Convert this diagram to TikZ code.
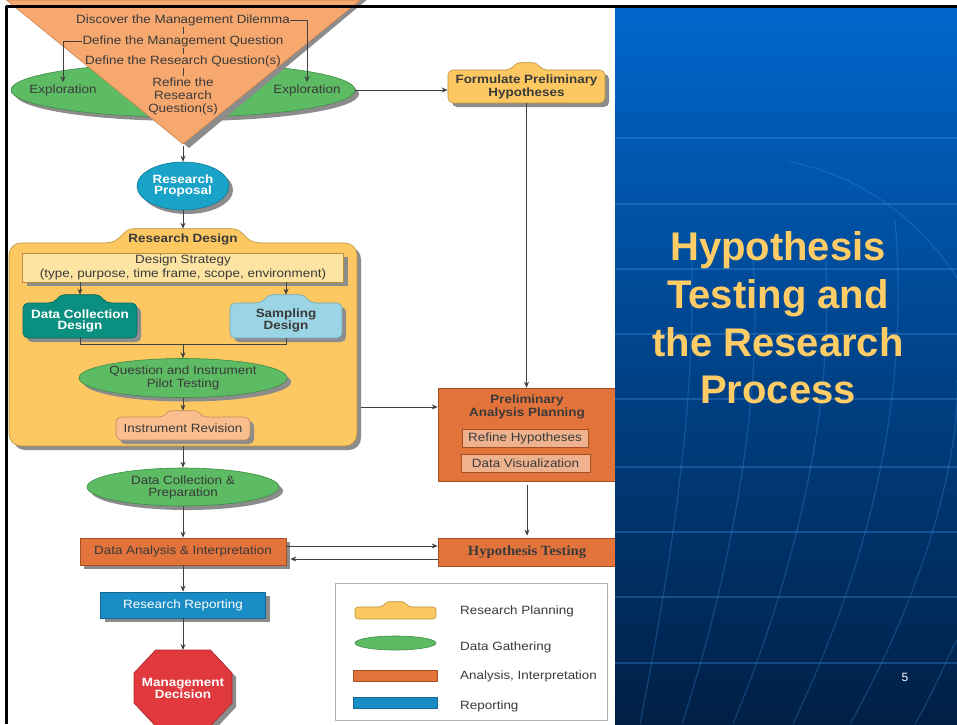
\documentclass[tikz,border=0pt]{standalone}
\usepackage{fontspec}
\setmainfont{Liberation Sans}[FakeStretch=1.12]
\newfontfamily\titlefont{Liberation Sans}
\newfontfamily\tnrfont{Liberation Serif}[FakeStretch=1.05]
\usetikzlibrary{shapes.geometric,arrows.meta,calc,shadows}

\definecolor{tri}{HTML}{F6A86E}
\definecolor{trid}{HTML}{C9834E}
\definecolor{grn}{HTML}{5DBB63}
\definecolor{grnd}{HTML}{3E8E45}
\definecolor{cyn}{HTML}{1AA3C8}
\definecolor{cynd}{HTML}{137A96}
\definecolor{yel}{HTML}{FDC862}
\definecolor{yeld}{HTML}{B8913A}
\definecolor{ltyel}{HTML}{FDE4A2}
\definecolor{tealc}{HTML}{0B8F80}
\definecolor{teald}{HTML}{06695E}
\definecolor{ltblu}{HTML}{9BD4E4}
\definecolor{ltblud}{HTML}{6FA9BA}
\definecolor{ltor}{HTML}{F9BE8E}
\definecolor{ltord}{HTML}{C48A5E}
\definecolor{org}{HTML}{E2733A}
\definecolor{orgd}{HTML}{A64F22}
\definecolor{ltorg}{HTML}{EFB28E}
\definecolor{blu}{HTML}{1A8CC5}
\definecolor{blud}{HTML}{136894}
\definecolor{redc}{HTML}{E03A3E}
\definecolor{redd}{HTML}{A82629}
\definecolor{txtc}{HTML}{3A3A3A}
\definecolor{linc}{HTML}{404040}
\definecolor{shadowc}{HTML}{8C8C8C}
\definecolor{bltop}{HTML}{0066CC}
\definecolor{blmid}{HTML}{0052A8}
\definecolor{blbot}{HTML}{001F45}
\definecolor{gridc}{HTML}{3F8FE0}
\definecolor{titlec}{HTML}{FFCC66}

\newcommand{\dfont}[1]{\fontsize{12}{#1}\selectfont}
% bump on top of a planning box: #1 node, #2 half width, #3 height, #4 fill, #5 draw
\newcommand{\bump}[5]{%
  \path[fill=#4] ($(#1.north)+(-#2,1.2)$) -- ($(#1.north)+(-#2,0)$)
     .. controls +(1.0*#3,0) and +(-0.8*#3,0) .. ($(#1.north)+(-#2+1.9*#3,-#3)$)
     -- ($(#1.north)+(#2-1.9*#3,-#3)$)
     .. controls +(0.8*#3,0) and +(-1.0*#3,0) .. ($(#1.north)+(#2,0)$)
     -- ($(#1.north)+(#2,1.2)$) -- cycle;
  \draw[draw=#5, line width=0.6pt] ($(#1.north)+(-#2,0)$)
     .. controls +(1.0*#3,0) and +(-0.8*#3,0) .. ($(#1.north)+(-#2+1.9*#3,-#3)$)
     -- ($(#1.north)+(#2-1.9*#3,-#3)$)
     .. controls +(0.8*#3,0) and +(-1.0*#3,0) .. ($(#1.north)+(#2,0)$);
  \coordinate (#1-top) at ($(#1.north)+(0,-#3)$);
}

\tikzset{
  txt/.style={font=\dfont{13}, align=center, text=txtc, inner sep=0pt},
  txtb/.style={txt, font=\dfont{13}\bfseries},
  arr/.style={draw=linc, line width=1pt, -{Stealth[length=6pt,width=5pt]}},
  ln/.style={draw=linc, line width=1pt},
  shd/.style={drop shadow={shadow xshift=4pt, shadow yshift=-4pt, fill=shadowc, opacity=1}},
  oval/.style={ellipse, fill=grn, draw=grnd, line width=0.6pt, inner sep=0pt},
  box/.style={rectangle, line width=0.6pt, inner sep=0pt},
}

\begin{document}
\begin{tikzpicture}[x=1pt,y=-1pt,line join=round]
\useasboundingbox (0,0) rectangle (957,724);
\clip (0,0) rectangle (957,724);
\fill[white] (0,0) rectangle (957,724);

% ---------- top: exploration ellipse and triangle ----------
\node[oval, minimum width=344pt, minimum height=54pt, shd] (expl) at (183,90) {};
\fill[shadowc] (12.4,0) -- (366.6,0) -- (189,148) -- cycle;
\filldraw[fill=tri, draw=trid, line width=0.6pt] (6.4,0) -- (360.6,0) -- (183,144) -- cycle;
\coordinate (apex) at (183,146);

\node[txt] (t1) at (183,20) {Discover the Management Dilemma};
\node[txt] (t2) at (183,41) {Define the Management Question};
\node[txt] (t3) at (183,61) {Define the Research Question(s)};
\node[txt] (t4) at (183,96) {Refine the\\Research\\Question(s)};
\node[txt] (exL) at (63,90) {Exploration};
\node[txt] (exR) at (307,90) {Exploration};

\draw[ln, shorten <=1.5pt, shorten >=1.5pt] (t1.south) -- (t2.north);
\draw[ln, shorten <=1.5pt, shorten >=1.5pt] (t2.south) -- (t3.north);
\draw[ln, shorten <=1.5pt, shorten >=1.5pt] (t3.south) -- (t4.north);
\draw[arr, shorten >=2pt] (t1.east) -| (exR.north);
\draw[arr, shorten >=2pt] (t2.west) -| (exL.north);

% ---------- formulate preliminary hypotheses ----------
\node[box, rounded corners=5pt, fill=yel, draw=yeld, minimum width=157pt, minimum height=33pt, shd, txtb] (fph) at (526.5,86.5) {Formulate Preliminary\\Hypotheses};
\bump{fph}{20}{7}{yel}{yeld}

% ---------- research proposal ----------
\node[ellipse, fill=cyn, draw=cynd, line width=0.6pt, inner sep=0pt, minimum width=92pt, minimum height=48pt, shd, txtb, text=white, font=\dfont{11.5}\bfseries] (rp) at (183,186) {Research\\Proposal};

% ---------- research design ----------
\node[box, rounded corners=12pt, fill=yel, draw=yeld, minimum width=348pt, minimum height=203pt, shd] (rd) at (183,344.5) {};
\bump{rd}{76}{14}{yel}{yeld}
\node[txtb] (rdt) at (183,239) {Research Design};

\node[box, fill=ltyel, draw=yeld, minimum width=321pt, minimum height=29pt, shd, txt, font=\dfont{14}] (ds) at (183,267.5) {Design Strategy\\(type, purpose, time frame, scope, environment)};

\node[box, rounded corners=5pt, fill=tealc, draw=teald, minimum width=114pt, minimum height=35pt, shd, txtb, text=white, font=\dfont{11}\bfseries] (dcd) at (80,320.5) {Data Collection\\Design};
\bump{dcd}{31}{8}{tealc}{teald}
\node[box, rounded corners=5pt, fill=ltblu, draw=ltblud, minimum width=112pt, minimum height=35pt, shd, txtb, font=\dfont{11}\bfseries] (sd) at (286,320.5) {Sampling\\Design};
\bump{sd}{29}{8}{ltblu}{ltblud}

\node[oval, minimum width=191pt, minimum height=39pt, shd, txt] (pil) at (183,378) {Question and Instrument\\Pilot Testing};

\node[box, rounded corners=5pt, fill=ltor, draw=ltord, minimum width=134pt, minimum height=23pt, shd, txt] (ir) at (183,428.5) {Instrument Revision};
\bump{ir}{23}{6}{ltor}{ltord}

% ---------- lower chain ----------
\node[oval, minimum width=192pt, minimum height=38pt, shd, txt, font=\dfont{12}] (dcp) at (183,487) {Data Collection \&\\Preparation};
\node[box, fill=org, draw=orgd, minimum width=206pt, minimum height=27pt, shd, txt] (dai) at (183,551.5) {Data Analysis \& Interpretation};
\node[box, fill=blu, draw=blud, minimum width=165pt, minimum height=26pt, shd, txt, text=white] (rr) at (183,605) {Research Reporting};

\coordinate (mdc) at (183,688);
\filldraw[fill=redc, draw=redd, line width=0.6pt, shd]
  ($(mdc)+(-27.5,-38)$) -- ($(mdc)+(27.5,-38)$) -- ($(mdc)+(49,-15)$) -- ($(mdc)+(49,15)$)
  -- ($(mdc)+(27.5,38)$) -- ($(mdc)+(-27.5,38)$) -- ($(mdc)+(-49,15)$) -- ($(mdc)+(-49,-15)$) -- cycle;
\coordinate (mdtop) at ($(mdc)+(0,-38)$);
\node[txtb, text=white, font=\dfont{12}\bfseries] (md) at (mdc) {Management\\Decision};

% ---------- right column ----------
\node[box, fill=org, draw=orgd, minimum width=178pt, minimum height=93pt] (pap) at (527,434.5) {};
\node[txtb] (papt) at (527,406.5) {Preliminary\\Analysis Planning};
\node[box, fill=ltorg, draw=orgd, minimum width=126pt, minimum height=18pt, txt] (rh) at (525,438) {Refine Hypotheses};
\node[box, fill=ltorg, draw=orgd, minimum width=129pt, minimum height=18pt, txt] (dv) at (525.5,463.5) {Data Visualization};
\node[box, fill=org, draw=orgd, minimum width=178pt, minimum height=28pt, txt, font=\tnrfont\fontsize{14}{14}\selectfont\bfseries] (ht) at (527,552) {Hypothesis Testing};

% ---------- connectors ----------
\draw[arr] (expl.east) -- (expl.east -| fph.west);
\draw[arr] (fph.south) -- (fph.south |- pap.north);
\draw[arr] (apex) -- (rp.north);
\draw[arr] (rp.south) -- (rd-top);
\draw[arr] (ds.south -| dcd.north) -- (dcd-top);
\draw[arr] (ds.south -| sd.north) -- (sd-top);
\coordinate (jn) at ($(dcd.south)+(0,6)$);
\draw[ln] (dcd.south) -- (jn) -| (sd.south);
\draw[arr] (jn -| pil.north) -- (pil.north);
\draw[arr] (pil.south) -- (ir-top);
\draw[arr] (rd.south) -- (dcp.north);
\coordinate (rdo) at ($(rd.east)+(4,62.5)$);
\draw[arr] (rdo) -- (rdo -| pap.west);
\draw[arr] (dcp.south) -- (dai.north);
\draw[arr] (dai.south) -- (rr.north);
\draw[arr] (rr.south) -- (mdtop);
\draw[arr, shorten <=4pt, shorten >=2pt] (pap.south) -- (ht.north);
\coordinate (da1) at ($(dai.east)+(0,-5.5)$);
\draw[arr] (da1) -- (da1 -| ht.west);
\coordinate (ht1) at ($(ht.west)+(0,7)$);
\draw[arr, shorten >=4pt] (ht1) -- (ht1 -| dai.east);

% ---------- legend ----------
\node[box, draw=gray!60, line width=0.8pt, fill=white, minimum width=272pt, minimum height=137pt] (leg) at (471,651.5) {};
\node[box, rounded corners=3pt, fill=yel, draw=yeld, minimum width=81pt, minimum height=12pt] (lg1) at (395.5,613) {};
\bump{lg1}{16}{5}{yel}{yeld}
\node[oval, minimum width=81pt, minimum height=14pt] (lg2) at (395.5,643) {};
\node[box, fill=org, draw=orgd, minimum width=84pt, minimum height=11pt] (lg3) at (395,675.5) {};
\node[box, fill=blu, draw=blud, minimum width=84pt, minimum height=11pt] (lg4) at (395,702.5) {};
\node[txt, anchor=west] (lt1) at (460,611) {Research Planning};
\node[txt, anchor=west] (lt2) at (460,647) {Data Gathering};
\node[txt, anchor=west] (lt3) at (460,676) {Analysis, Interpretation};
\node[txt, anchor=west] (lt4) at (460,706) {Reporting};

% ---------- blue title panel ----------
\begin{scope}
\clip (615,7) rectangle (957,724);
\shade[top color=bltop, middle color=blmid, bottom color=blbot] (615,7) rectangle (957,724);
\foreach \yy in {138,204,269,334,399,467,532,597,663}
  \draw[gridc, opacity=0.35, line width=1.3pt] (615,\yy) -- (957,\yy);
\begin{scope}[gridc, opacity=0.3, line width=1.2pt]
\draw (640,724) .. controls (672,560) and (700,380) .. (690,230);
\draw (682,724) .. controls (735,560) and (765,380) .. (752,250);
\draw (733,724) .. controls (800,560) and (835,400) .. (825,250);
\draw (793,724) .. controls (870,560) and (910,400) .. (895,220);
\draw (850,724) .. controls (930,580) and (960,450) .. (957,380);
\draw (915,724) .. controls (940,680) and (950,650) .. (957,640);
\draw (790,162) .. controls (860,175) and (920,220) .. (957,278);
\end{scope}
\end{scope}
\node[font=\titlefont\fontsize{40}{47.7}\selectfont\bfseries, text=titlec, align=center, inner sep=0pt] (title) at (778,318) {Hypothesis\\Testing and\\the Research\\Process};
\node[font=\titlefont\fontsize{12}{12}\selectfont, text=white, inner sep=0pt] (pg) at (905,677) {5};

% ---------- frame ----------
\draw[black, line width=2.5pt] (957,6.5) -- (6.5,6.5) -- (6.5,724);
\end{tikzpicture}
\end{document}
